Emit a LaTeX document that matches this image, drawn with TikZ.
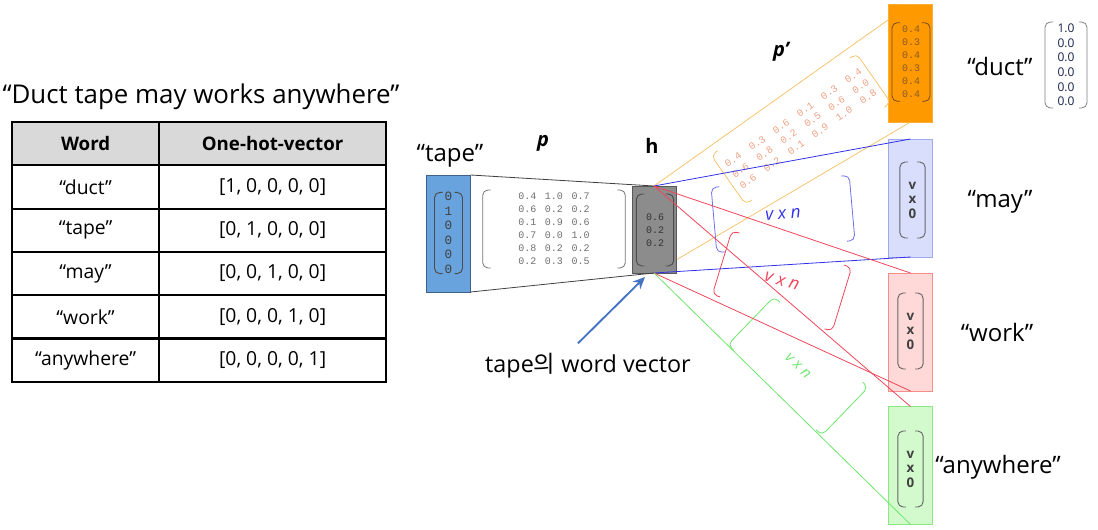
\documentclass[tikz,border=0pt]{standalone}
\usepackage{fontspec}
\setmainfont{Open Sans}
\setmonofont{Liberation Mono}
\newfontfamily\krfont{Noto Sans CJK KR}
\usepackage{xcolor}
\usetikzlibrary{positioning,calc,backgrounds,arrows.meta}

\definecolor{tapeblue}{RGB}{105,163,221}
\definecolor{hgray}{RGB}{140,140,140}
\definecolor{ductorange}{RGB}{255,153,0}
\definecolor{mayfill}{RGB}{216,222,252}
\definecolor{mayline}{RGB}{160,168,240}
\definecolor{workfill}{RGB}{255,216,216}
\definecolor{workline}{RGB}{246,140,140}
\definecolor{anyfill}{RGB}{210,250,205}
\definecolor{anyline}{RGB}{140,232,130}
\definecolor{linorange}{RGB}{246,196,110}
\definecolor{linblue}{RGB}{50,50,230}
\definecolor{linred}{RGB}{240,70,90}
\definecolor{lingreen}{RGB}{110,230,110}
\definecolor{ptrblue}{RGB}{68,114,196}
\definecolor{numgray}{RGB}{110,110,110}
\definecolor{salmon}{RGB}{240,160,130}
\definecolor{navy}{RGB}{25,35,75}

% curved brackets on both sides of a node
\newcommand\parens[2]{%
  \draw[#2, rounded corners=4pt] ($(#1.north west)!6pt!(#1.north east)$) -- (#1.north west) -- (#1.south west) -- ($(#1.south west)!6pt!(#1.south east)$);
  \draw[#2, rounded corners=4pt] ($(#1.north east)!6pt!(#1.north west)$) -- (#1.north east) -- (#1.south east) -- ($(#1.south east)!6pt!(#1.south west)$);}

\begin{document}
\begin{tikzpicture}[x=0.75pt, y=-0.75pt,
    word/.style={font=\fontsize{18}{21}\selectfont, inner sep=0pt},
    cell/.style={font=\fontsize{14.5}{17}\selectfont},
    head/.style={font=\bfseries\fontsize{14}{16}\selectfont},
    vecbox/.style={rectangle, minimum width=33pt, minimum height=88.5pt, inner sep=0pt, outer sep=0pt},
    inner/.style={rectangle, inner sep=0pt, outer sep=0pt, align=center},
    vx/.style={inner, minimum width=19pt, minimum height=57pt, font=\bfseries\fontsize{10}{10.9}\selectfont, text=black!75},
    mono/.style={font=\ttfamily\fontsize{7.5}{9.75}\selectfont},
    vxn/.style={inner, font=\itshape\fontsize{13}{15}\selectfont},
    link/.style={line width=0.6pt},
    ptr/.style={-{Stealth[length=9pt,width=8pt]}, line width=1.4pt, ptrblue}
]
\useasboundingbox (0,0) rectangle (1098,530);

% sentence and table
\node[word, font=\fontsize{19.4}{22}\selectfont] (sentence) at (201,97) {“Duct tape may works anywhere”};
\fill[black!15] (12,122) rectangle (386,165.3);
\draw[line width=1.6pt] (12,122) rectangle (386,381.7);
\foreach \k in {1,...,5}
  \draw[line width=1.6pt] (12,122+43.3*\k) -- (386,122+43.3*\k);
\draw[line width=1.6pt] (159.3,122) -- (159.3,381.7);
\node[head] (hword) at (85.6,143.6) {Word};
\node[head] (hvec) at (272.6,143.6) {One-hot-vector};
\foreach \w/\v [count=\i] in {“duct”/{[1, 0, 0, 0, 0]}, “tape”/{[0, 1, 0, 0, 0]}, “may”/{[0, 0, 1, 0, 0]}, “work”/{[0, 0, 0, 1, 0]}, “anywhere”/{[0, 0, 0, 0, 1]}}{
  \node[cell] (w\i) at (85.6,143.6+43.3*\i) {\w};
  \node[cell] (v\i) at (272.6,143.6+43.3*\i) {\v};
}

% input, projection and hidden layer
\node[word] (tapelabel) at (450,156) {“tape”};
\node[vecbox, minimum height=87.75pt, fill=tapeblue, draw=tapeblue!60!black] (tape) at (448.5,233.5) {};
\node[inner, minimum width=21pt, minimum height=58pt, mono, font=\ttfamily\fontsize{9.5}{10.9}\selectfont, text=black!75] (tapecol) at (448.5,233) {0\\1\\0\\0\\0\\0};
\parens{tapecol}{black!70, line width=0.7pt}

\node[font=\bfseries\itshape\fontsize{15}{17}\selectfont] (plabel) at (543,143) {p};
\node[inner, minimum width=107pt, minimum height=58pt, mono, text=numgray] (pmat) at (554,229)
  {\begin{tabular}{@{}c@{\hskip 6.5pt}c@{\hskip 6.5pt}c@{}}
   0.4 & 1.0 & 0.7\\ 0.6 & 0.2 & 0.2\\ 0.1 & 0.9 & 0.6\\
   0.7 & 0.0 & 1.0\\ 0.8 & 0.2 & 0.2\\ 0.2 & 0.3 & 0.5
   \end{tabular}};
\parens{pmat}{black!55, line width=0.6pt}

\node[font=\bfseries\fontsize{15}{17}\selectfont] (hlabel) at (652,146) {h};
\node[vecbox, minimum height=65.25pt, fill=hgray, draw=black!65] (hbox) at (654,229.5) {};
\node[inner, minimum width=28pt, minimum height=54pt, mono, text=black!80] (hcol) at (655,230)
  {0.6\\0.2\\0.2};
\parens{hcol}{black!70, line width=0.7pt}

\draw[link, black!75] (tape.north east) -- (hbox.north);
\draw[link, black!75] (tape.south east) -- (hbox.south);

% output word vectors
\node[font=\bfseries\itshape\fontsize{15}{17}\selectfont] (pplabel) at (781,52) {p’};
\node[vecbox, fill=ductorange, draw=ductorange!80!white] (duct) at (910.5,63) {};
\node[inner, minimum width=28.5pt, minimum height=59pt, mono, text=brown!70!black] (ductcol) at (911,62)
  {0.4\\0.3\\0.4\\0.3\\0.4\\0.4};
\parens{ductcol}{brown!60!black, line width=0.6pt}
\node[vecbox, fill=mayfill, draw=mayline] (may) at (910.5,198) {};
\node[vx] (maycol) at (912.5,200) {v\\x\\0};
\parens{maycol}{black!60, line width=0.7pt}
\node[vecbox, fill=workfill, draw=workline] (work) at (910.5,332) {};
\node[vx] (workcol) at (910.5,331) {v\\x\\0};
\parens{workcol}{black!60, line width=0.7pt}
\node[vecbox, fill=anyfill, draw=anyline] (anyw) at (910.5,465.5) {};
\node[vx] (anycol) at (910.5,469) {v\\x\\0};
\parens{anycol}{black!60, line width=0.7pt}

\node[word] (ductlabel) at (1000,67) {“duct”};
\node[word] (maylabel) at (1000,202) {“may”};
\node[word] (worklabel) at (997,333) {“work”};
\node[word] (anylabel) at (998,467) {“anywhere”};
\node[inner, minimum width=31.5pt, minimum height=64.5pt, font=\fontsize{9}{10.95}\selectfont, text=navy] (onehot) at (1066,65)
  {1.0\\0.0\\0.0\\0.0\\0.0\\0.0};
\parens{onehot}{black!50, line width=0.6pt}

% weight matrices between h and the outputs
\node[inner, rotate=35, minimum width=133pt, minimum height=45pt, mono, text=salmon] (pomat) at (801,129)
  {\begin{tabular}{@{}c@{\hskip 8.5pt}c@{\hskip 8.5pt}c@{\hskip 8.5pt}c@{\hskip 8.5pt}c@{\hskip 8.5pt}c@{}}
   0.4 & 0.3 & 0.6 & 0.1 & 0.3 & 0.4\\
   0.6 & 0.8 & 0.2 & 0.5 & 0.6 & 0.0\\
   0.6 & 0.2 & 0.1 & 0.9 & 1.0 & 0.8
   \end{tabular}};
\parens{pomat}{linorange, line width=0.6pt}
\node[vxn, rotate=5, minimum width=104pt, minimum height=49pt, text=linblue] (bmat) at (783,214) {v x n};
\parens{bmat}{linblue!70, line width=0.6pt}
\node[vxn, rotate=-17, minimum width=94pt, minimum height=50pt, text=linred] (rmat) at (782,281) {v x n};
\parens{rmat}{linred, line width=0.6pt}
\node[vxn, rotate=-44, minimum width=98pt, minimum height=50pt, font=\itshape\fontsize{11}{13}\selectfont, text=lingreen] (gmat) at (798,366) {v x n};
\parens{gmat}{lingreen, line width=0.6pt}

% connectors from h
\begin{pgfonlayer}{background}
\draw[link, linorange] (hbox.north) -- (duct.north);
\draw[link, linorange] (hbox.south) -- (duct.south);
\end{pgfonlayer}
\draw[link, linblue] (hbox.north) -- (may.north);
\draw[link, linblue] (hbox.south) -- (may.south);
\draw[link, linred] (hbox.north) -- (work.north);
\draw[link, linred] (hbox.south) -- (work.south);
\draw[link, linred] (hbox.north) -- (anyw.north);
\draw[link, lingreen] (hbox.south) -- (anyw.south);

% pointer to h
\node[word, font=\fontsize{17.5}{20}\selectfont] (wordvec) at (588,366) {tape{\krfont 의} word vector};
\draw[ptr] ([shift={(-10,-10)}]wordvec.north) -- ([shift={(13,4)}]hbox.south west);
\end{tikzpicture}
\end{document}
